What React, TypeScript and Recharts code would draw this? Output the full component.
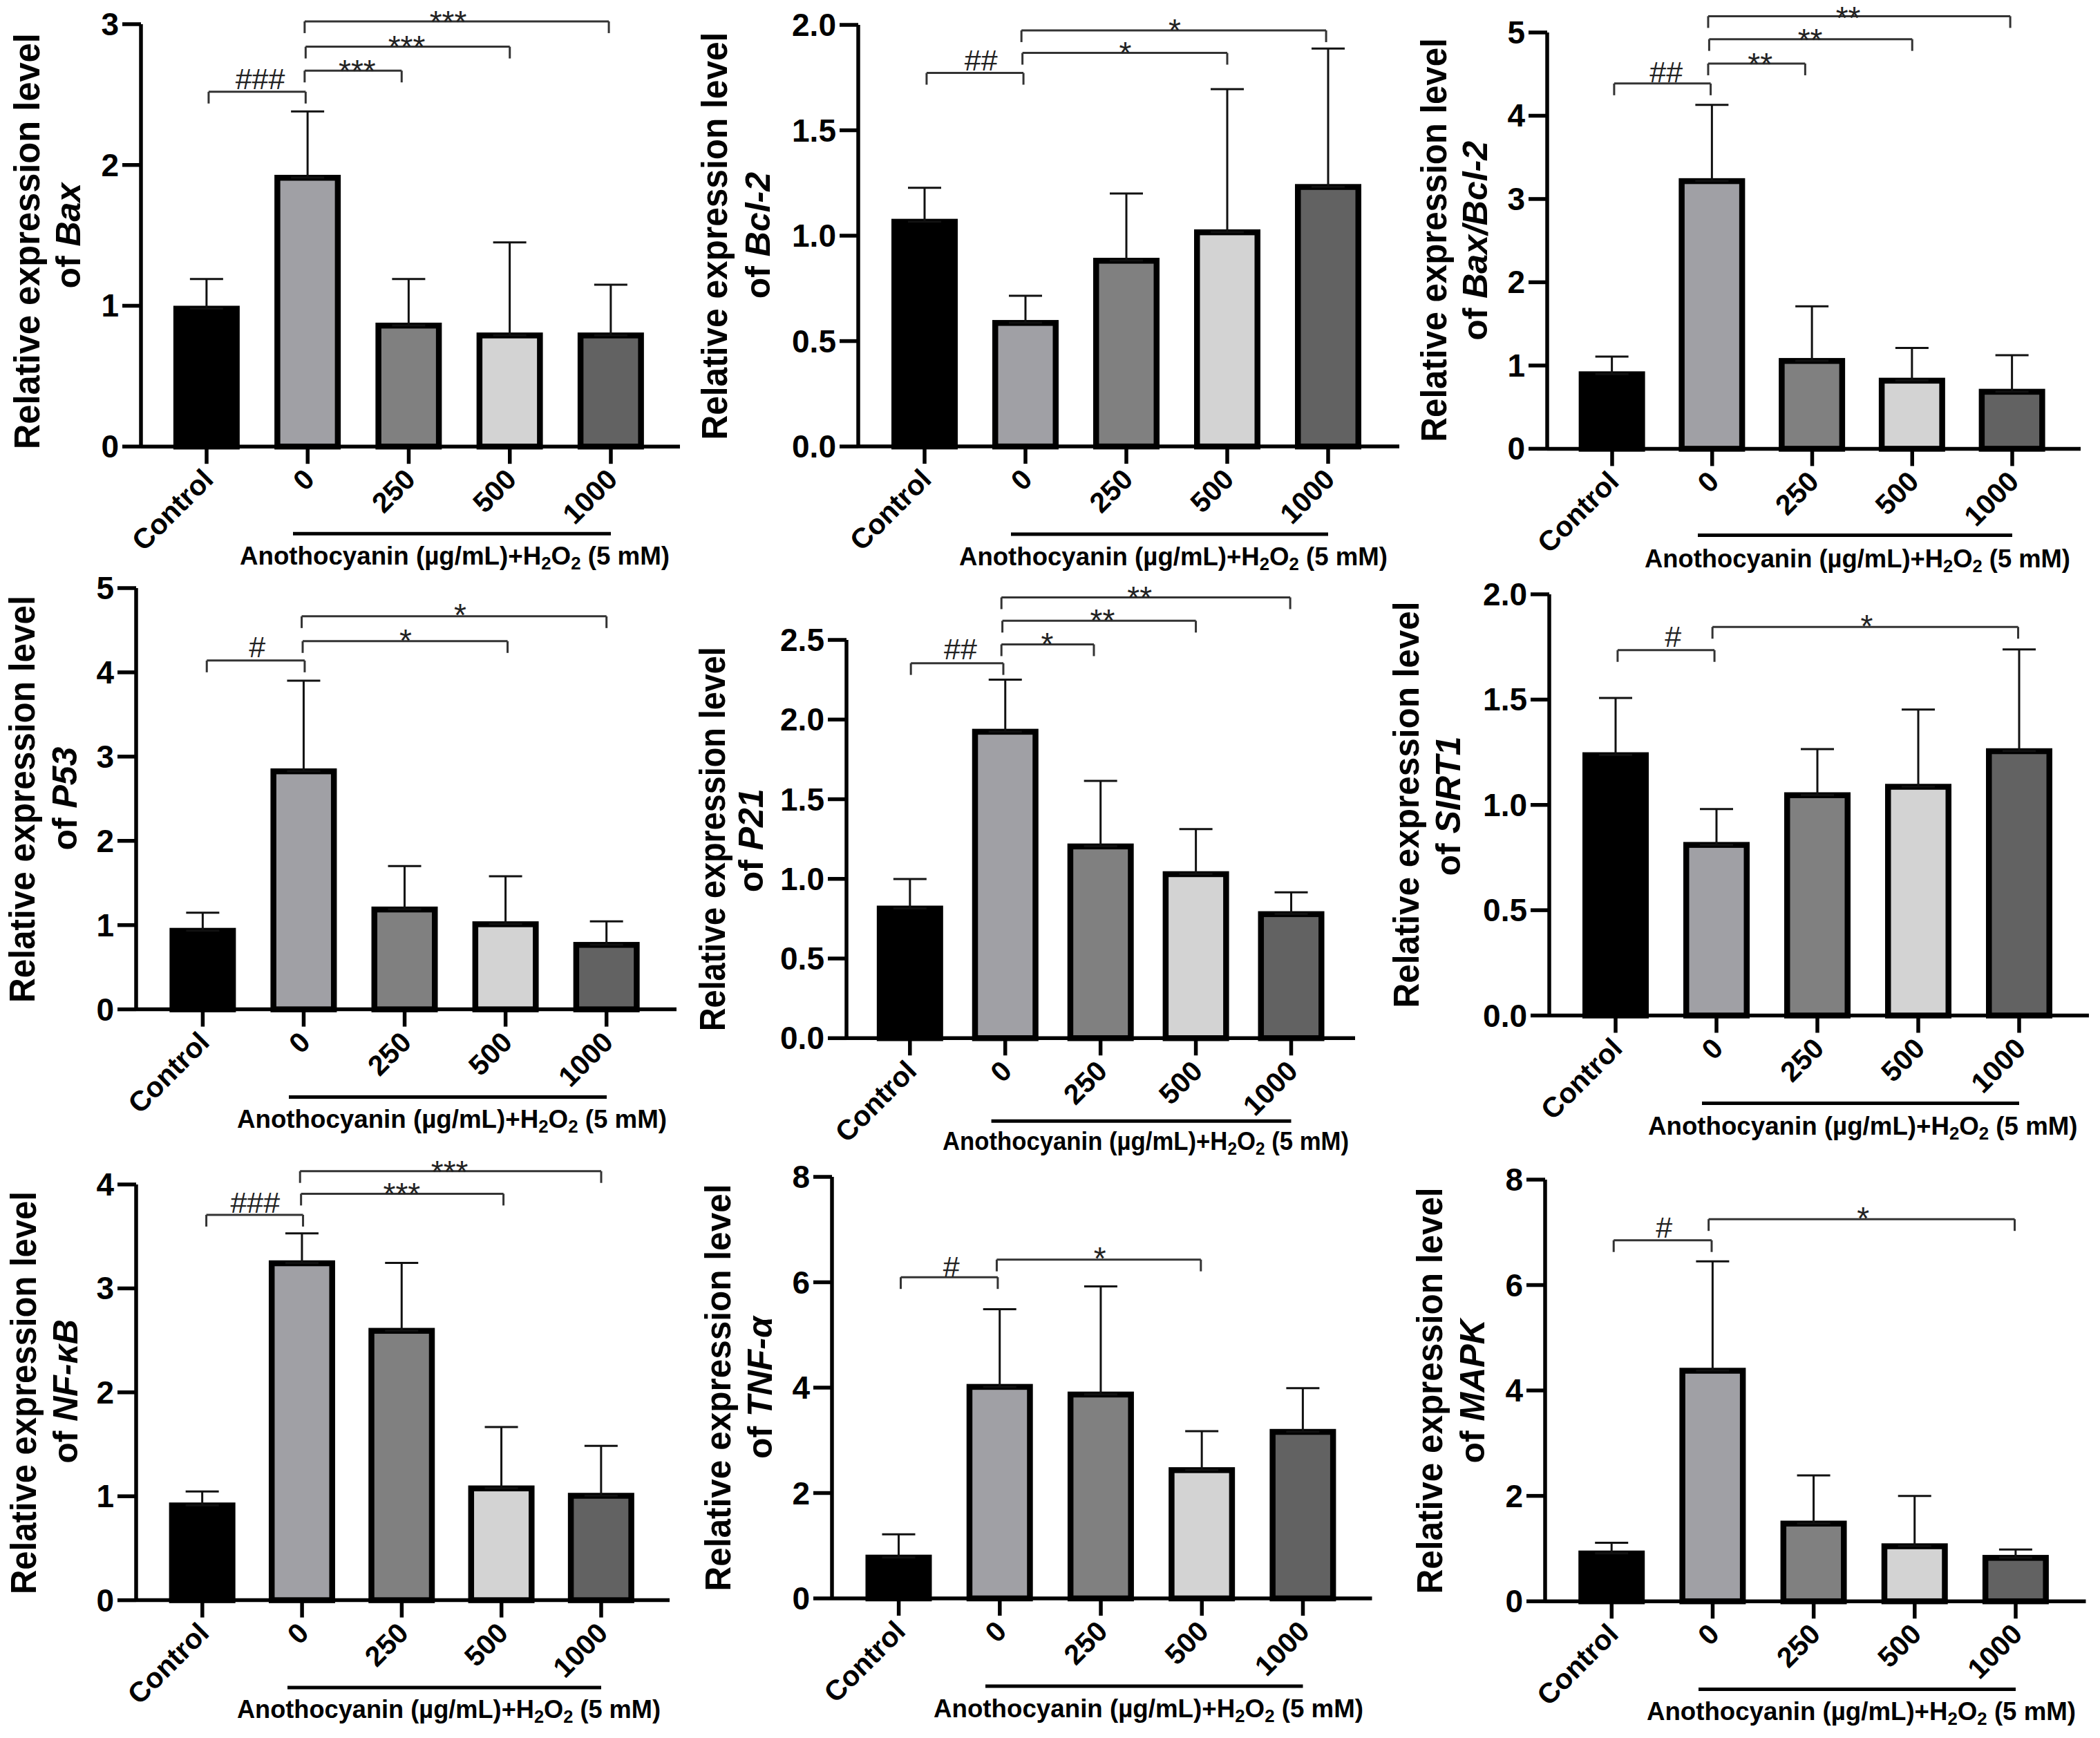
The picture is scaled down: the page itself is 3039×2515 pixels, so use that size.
import { BarChart, Bar, XAxis, YAxis, ErrorBar, ReferenceLine, ReferenceDot } from 'recharts'

const categories = ['Control', '0', '250', '500', '1000']
const barFills = ['#000000', '#a0a0a5', '#808080', '#d3d3d3', '#626262']

const baxValues = [1.0, 1.93, 0.88, 0.81, 0.81]
const baxErrorTops = [1.19, 2.38, 1.19, 1.45, 1.15]
const bcl2Values = [1.08, 0.6, 0.895, 1.03, 1.245]
const bcl2ErrorTops = [1.227, 0.715, 1.2, 1.695, 1.888]
const ratioValues = [0.93, 3.25, 1.09, 0.853, 0.72]
const ratioErrorTops = [1.107, 4.13, 1.71, 1.21, 1.124]
const p53Values = [0.967, 2.86, 1.22, 1.045, 0.8]
const p53ErrorTops = [1.147, 3.9, 1.7, 1.58, 1.045]
const p21Values = [0.832, 1.942, 1.222, 1.048, 0.797]
const p21ErrorTops = [0.999, 2.251, 1.615, 1.313, 0.915]
const sirt1Values = [1.25, 0.824, 1.06, 1.1, 1.269]
const sirt1ErrorTops = [1.508, 0.98, 1.265, 1.453, 1.738]
const nfkbValues = [0.94, 3.27, 2.62, 1.104, 1.033]
const nfkbErrorTops = [1.047, 3.53, 3.245, 1.667, 1.485]
const tnfValues = [0.83, 4.07, 3.925, 2.49, 3.216]
const tnfErrorTops = [1.215, 5.49, 5.92, 3.174, 3.99]
const mapkValues = [0.963, 4.43, 1.53, 1.1, 0.88]
const mapkErrorTops = [1.11, 6.45, 2.387, 1.997, 0.984]

const ticks3 = [0, 1, 2, 3]
const ticks4 = [0, 1, 2, 3, 4]
const ticks5 = [0, 1, 2, 3, 4, 5]
const ticks8 = [0, 2, 4, 6, 8]
const ticksHalf2 = [0, 0.5, 1, 1.5, 2]
const ticksHalf25 = [0, 0.5, 1, 1.5, 2, 2.5]

// [from, to, y, label, label x, gap between line and glyph], x in category index units
type Bracket = [number, number, number, string, number, number]
const baxBrackets: Bracket[] = [
  [0.02, 0.98, 2.52, '###', 0.53, 4],
  [0.97, 1.93, 2.67, '***', 1.49, 2],
  [0.98, 3.0, 2.84, '***', 1.98, 3],
  [0.97, 3.98, 3.02, '***', 2.39, 2],
]
const bcl2Brackets: Bracket[] = [
  [0.02, 0.98, 1.772, '##', 0.56, 4],
  [0.97, 3.0, 1.867, '*', 1.99, 3],
  [0.96, 3.98, 1.974, '*', 2.48, 3],
]
const ratioBrackets: Bracket[] = [
  [0.02, 0.985, 4.387, '##', 0.54, 2],
  [0.96, 1.93, 4.627, '**', 1.48, 2],
  [0.97, 3.0, 4.92, '**', 1.98, 2],
  [0.96, 3.98, 5.196, '**', 2.36, 0],
]
const p53Brackets: Bracket[] = [
  [0.04, 1.01, 4.14, '#', 0.54, 5],
  [0.99, 3.02, 4.37, '*', 2.01, 4],
  [0.98, 4.0, 4.665, '*', 2.55, 5],
]
const p21Brackets: Bracket[] = [
  [0.01, 0.98, 2.354, '##', 0.53, 6],
  [0.96, 1.93, 2.472, '*', 1.44, 3],
  [0.97, 3.0, 2.62, '**', 2.02, 3],
  [0.96, 3.99, 2.767, '**', 2.41, 2],
]
const sirt1Brackets: Bracket[] = [
  [0.02, 0.98, 1.735, '#', 0.57, 5],
  [0.96, 3.99, 1.845, '*', 2.49, 4],
]
const nfkbBrackets: Bracket[] = [
  [0.04, 1.01, 3.708, '###', 0.53, 3],
  [0.99, 3.02, 3.911, '***', 2.0, 2],
  [0.98, 4.0, 4.128, '***', 2.48, 2],
]
const tnfBrackets: Bracket[] = [
  [0.02, 0.98, 6.096, '#', 0.52, 0],
  [0.97, 2.99, 6.43, '*', 1.99, 5],
]
const mapkBrackets: Bracket[] = [
  [0.02, 0.99, 6.85, '#', 0.52, 4],
  [0.96, 3.99, 7.25, '*', 2.49, 4],
]

const FONT = '"Liberation Sans", Arial, sans-serif'
const Y_AXIS_W = 270
const TOP_ROOM = 110
const X_AXIS_H = 240
const BAR_W = 96
const BAR_STROKE = 8.5

const panels = [
  { gene: 'Bax', values: baxValues, tops: baxErrorTops, ticks: ticks3, digits: 0, brackets: baxBrackets,
    axisX: 204, yTop: 34.8, y0: 646, xEnd: 984, cat0: 299, cat4: 884,
    title: [57, 116, 349, 341, 602], under: [424, 884, 772], note: [347, 969, 817] },
  { gene: 'Bcl-2', values: bcl2Values, tops: bcl2ErrorTops, ticks: ticksHalf2, digits: 1, brackets: bcl2Brackets,
    axisX: 1242, yTop: 36.4, y0: 646.5, xEnd: 2025, cat0: 1338, cat4: 1922,
    title: [1052, 1114, 342, 341, 590], under: [1463, 1922, 773.5], note: [1388, 2008, 818] },
  { gene: 'Bax/Bcl-2', values: ratioValues, tops: ratioErrorTops, ticks: ticks5, digits: 0, brackets: ratioBrackets,
    axisX: 2239, yTop: 46.6, y0: 649, xEnd: 3011, cat0: 2333, cat4: 2912,
    title: [2092.5, 2152, 347, 348, 584], under: [2457, 2912, 774], note: [2380, 2996, 821] },
  { gene: 'P53', values: p53Values, tops: p53ErrorTops, ticks: ticks5, digits: 0, brackets: p53Brackets,
    axisX: 197, yTop: 851.4, y0: 1461, xEnd: 979, cat0: 293.4, cat4: 877.7,
    title: [50, 110.6, 1157, 1156, 589], under: [418, 878, 1588], note: [343, 965, 1632] },
  { gene: 'P21', values: p21Values, tops: p21ErrorTops, ticks: ticksHalf25, digits: 1, brackets: p21Brackets,
    axisX: 1225, yTop: 925.7, y0: 1502, xEnd: 1961, cat0: 1316.8, cat4: 1868.5,
    title: [1049, 1104, 1214, 1216, 556], under: [1434.6, 1868.5, 1622], note: [1364, 1952, 1664] },
  { gene: 'SIRT1', values: sirt1Values, tops: sirt1ErrorTops, ticks: ticksHalf2, digits: 1, brackets: sirt1Brackets,
    axisX: 2242, yTop: 859.5, y0: 1469, xEnd: 3023, cat0: 2338, cat4: 2922,
    title: [2053, 2113, 1164, 1166, 588], under: [2463, 2922, 1596], note: [2385, 3006.6, 1641.5] },
  { gene: 'NF-κB', values: nfkbValues, tops: nfkbErrorTops, ticks: ticks4, digits: 0, brackets: nfkbBrackets,
    axisX: 197, yTop: 1714, y0: 2315.6, xEnd: 969, cat0: 292.8, cat4: 870,
    title: [52, 112, 2015.6, 2013.5, 583], under: [416, 870, 2442], note: [343, 956, 2486.5] },
  { gene: 'TNF-α', values: tnfValues, tops: tnfErrorTops, ticks: ticks8, digits: 0, brackets: tnfBrackets,
    axisX: 1204, yTop: 1703, y0: 2313, xEnd: 1985.5, cat0: 1300.6, cat4: 1885.5,
    title: [1057, 1117, 2008, 2008, 589], under: [1426, 1885.5, 2440], note: [1351, 1973, 2485] },
  { gene: 'MAPK', values: mapkValues, tops: mapkErrorTops, ticks: ticks8, digits: 0, brackets: mapkBrackets,
    axisX: 2236, yTop: 1706.6, y0: 2316.8, xEnd: 3018.5, cat0: 2332.3, cat4: 2917,
    title: [2087, 2148, 2012, 2013, 588], under: [2458, 2917, 2444], note: [2383, 3004, 2489] },
]

// outer edge of the stroke sits on the value, as in the prism-style bars
function OutlinedBar({ x, y, width, height, index }: any) {
  return (
    <rect
      x={x + BAR_STROKE / 2}
      y={y + BAR_STROKE / 2}
      width={width - BAR_STROKE}
      height={height - BAR_STROKE / 2}
      fill={barFills[index]}
      stroke="#000"
      strokeWidth={BAR_STROKE}
    />
  )
}

function XTick({ x, y, payload }: any) {
  return (
    <text
      transform={`translate(${x + 12},${y + 23}) rotate(-45)`}
      textAnchor="end"
      fontFamily={FONT}
      fontWeight="bold"
      fontSize={41}
      fill="#000"
    >
      {payload.value}
    </text>
  )
}

function YTick({ x, y, payload, digits }: any) {
  return (
    <text
      x={x}
      y={y + 16}
      textAnchor="end"
      fontFamily={FONT}
      fontWeight="bold"
      fontSize={46}
      fill="#000"
    >
      {payload.value.toFixed(digits)}
    </text>
  )
}

function bracketLabel(label: string, gap: number) {
  const isHash = label.startsWith('#')
  return ({ cx, cy }: any) => {
    const baseY = isHash ? cy - gap : cy + 19 - gap
    return (
      <text
        x={cx}
        y={baseY}
        textAnchor="middle"
        fontFamily={FONT}
        fontSize={isHash ? 43 : 46}
        fill="#222"
      >
        {label}
      </text>
    )
  }
}

function Panel({ p }: { p: (typeof panels)[number] }) {
  const left = p.axisX - Y_AXIS_W
  const top = p.yTop - TOP_ROOM
  const plotH = p.y0 - p.yTop
  const yMax = p.ticks[p.ticks.length - 1]
  const step = (p.cat4 - p.cat0) / 4
  const toUnits = (px: number) => (px / plotH) * yMax
  const data = categories.map((name, i) => ({
    name,
    value: p.values[i],
    error: [toUnits(4), p.tops[i] - p.values[i]],
  }))
  const [b1, b2, cy1, cy2, titleLen] = p.title
  const [ux1, ux2, uy] = p.under
  const [nx1, nx2, ny] = p.note

  return (
    <div style={{ position: 'absolute', left, top }}>
      <BarChart
        width={p.xEnd - left}
        height={TOP_ROOM + plotH + X_AXIS_H}
        data={data}
        margin={{ top: TOP_ROOM, right: 0, bottom: 0, left: 0 }}
        barSize={BAR_W}
      >
        <XAxis
          dataKey="name"
          interval={0}
          height={X_AXIS_H}
          padding={{ left: p.cat0 - step / 2 - p.axisX, right: p.xEnd - p.cat4 - step / 2 }}
          axisLine={{ stroke: '#000', strokeWidth: 5.5 }}
          tickLine={{ stroke: '#000', strokeWidth: 5.5 }}
          tickSize={25}
          tick={<XTick />}
        />
        <XAxis
          xAxisId="pos"
          type="number"
          domain={[0, 4]}
          allowDataOverflow
          hide
          padding={{ left: p.cat0 - p.axisX, right: p.xEnd - p.cat4 }}
        />
        <YAxis
          width={Y_AXIS_W}
          domain={[0, yMax]}
          ticks={p.ticks}
          interval={0}
          axisLine={{ stroke: '#000', strokeWidth: 5.5 }}
          tickLine={{ stroke: '#000', strokeWidth: 5.5 }}
          tickSize={27}
          tickMargin={5}
          tick={<YTick digits={p.digits} />}
        />
        <Bar dataKey="value" shape={<OutlinedBar />} isAnimationActive={false}>
          <ErrorBar dataKey="error" direction="y" width={24} strokeWidth={3} stroke="#111" isAnimationActive={false} />
        </Bar>
        {p.brackets.map(([from, to, y, label, labelX, gap]) => [
          <ReferenceLine
            key={`${to}-${y}-top`}
            xAxisId="pos"
            segment={[{ x: from, y }, { x: to, y }]}
            stroke="#333"
            strokeWidth={3}
            ifOverflow="visible"
          />,
          <ReferenceLine
            key={`${to}-${y}-l`}
            xAxisId="pos"
            segment={[{ x: from, y }, { x: from, y: y - toUnits(17) }]}
            stroke="#333"
            strokeWidth={3}
            ifOverflow="visible"
          />,
          <ReferenceLine
            key={`${to}-${y}-r`}
            xAxisId="pos"
            segment={[{ x: to, y }, { x: to, y: y - toUnits(17) }]}
            stroke="#333"
            strokeWidth={3}
            ifOverflow="visible"
          />,
          <ReferenceDot
            key={`${to}-${y}-t`}
            xAxisId="pos"
            x={labelX}
            y={y}
            r={0}
            ifOverflow="visible"
            shape={bracketLabel(label, gap)}
          />,
        ])}
        <text
          transform={`translate(${b1 - left},${cy1 - top}) rotate(-90)`}
          textAnchor="middle"
          fontFamily={FONT}
          fontWeight="bold"
          fontSize={52}
          textLength={titleLen}
          lengthAdjust="spacingAndGlyphs"
        >
          Relative expression level
        </text>
        <text
          transform={`translate(${b2 - left},${cy2 - top}) rotate(-90)`}
          textAnchor="middle"
          fontFamily={FONT}
          fontWeight="bold"
          fontSize={50}
        >
          of <tspan fontStyle="italic">{p.gene}</tspan>
        </text>
        <line x1={ux1 - left} x2={ux2 - left} y1={uy - top} y2={uy - top} stroke="#000" strokeWidth={5} />
        <text
          x={nx1 - left}
          y={ny - top}
          fontFamily={FONT}
          fontWeight="bold"
          fontSize={37}
          textLength={nx2 - nx1}
          lengthAdjust="spacingAndGlyphs"
        >
          Anothocyanin (µg/mL)+H
          <tspan dy={7} fontSize={26}>2</tspan>
          <tspan dy={-7}>O</tspan>
          <tspan dy={7} fontSize={26}>2</tspan>
          <tspan dy={-7}> (5 mM)</tspan>
        </text>
      </BarChart>
    </div>
  )
}

export default function App() {
  return (
    <div style={{ position: 'absolute', left: 0, top: 0, width: 3039, height: 2515, background: '#fff', overflow: 'hidden' }}>
      {panels.map((p) => (
        <Panel key={p.gene} p={p} />
      ))}
    </div>
  )
}
